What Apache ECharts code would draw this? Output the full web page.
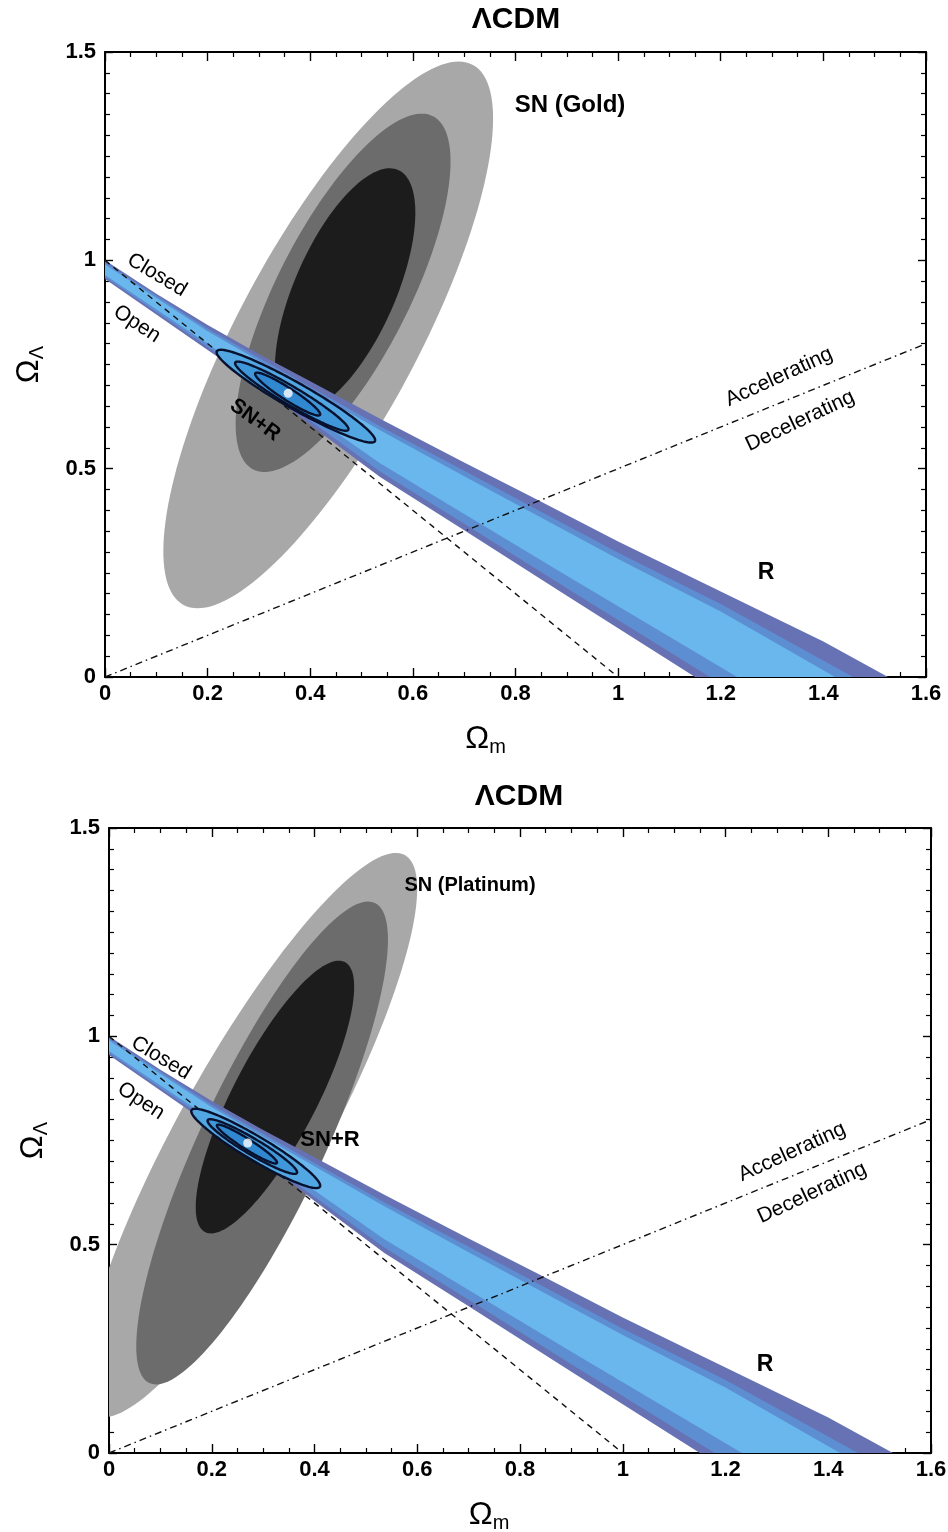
<!DOCTYPE html>
<html><head><meta charset="utf-8">
<script src="https://cdn.jsdelivr.net/npm/echarts@6/dist/echarts.min.js"></script>
<style>html,body{margin:0;padding:0;background:#fff}#c{width:948px;height:1532px}</style>
</head><body><div id="c"></div>
<script>
// ---------------- DATA ----------------
const xTickLabels = ['0','0.2','0.4','0.6','0.8','1','1.2','1.4','1.6'];
const yTickLabels = ['0','0.5','1','1.5'];
const flatLine  = [[0,1],[1,0]];          // Omega_k = 0 (Closed / Open)
const accelLine = [[0,0],[1.6,0.8]];      // q0 = 0 (Accelerating / Decelerating)

// R (CMB shift) band edges, [Omega_m, Omega_Lambda]
const rOuterUpper = [[0,1.0],[0.1,0.92],[0.2,0.845],[0.3,0.775],[0.4,0.71],[0.536,0.62],[0.7,0.515],[0.835,0.43],[1.0,0.325],[1.2,0.205],[1.4,0.085],[1.526,0]];
const rOuterLower = [[0,0.955],[0.1,0.87],[0.2,0.785],[0.3,0.70],[0.4,0.605],[0.536,0.48],[0.7,0.352],[0.9,0.195],[1.15,0]];
const rMidUpper   = [[0,0.995],[0.2,0.836],[0.4,0.696],[0.536,0.602],[0.7,0.495],[1.0,0.298],[1.2,0.175],[1.458,0]];
const rMidLower   = [[0,0.96],[0.2,0.792],[0.4,0.615],[0.536,0.493],[0.7,0.368],[0.9,0.213],[1.179,0]];
const rInUpper    = [[0,0.99],[0.2,0.83],[0.4,0.688],[0.536,0.592],[0.7,0.482],[1.0,0.283],[1.2,0.157],[1.423,0]];
const rInLower    = [[0,0.965],[0.2,0.8],[0.4,0.63],[0.536,0.513],[0.7,0.391],[0.9,0.243],[1.232,0]];

// Ellipse contours: [centerX, centerY, majorTipX, majorTipY, minorTipX, minorTipY]
const goldSN3 = [0.435,0.821, 0.717,1.469, 0.589,0.718];
const goldSN2 = [0.464,0.922, 0.639,1.346, 0.579,0.850];
const goldSN1 = [0.468,0.929, 0.571,1.217, 0.558,0.881];
const goldJoint3 = [0.372,0.674, 0.526,0.566, 0.360,0.647];
const goldJoint2 = [0.364,0.674, 0.474,0.593, 0.354,0.656];
const goldJoint1 = [0.356,0.679, 0.419,0.629, 0.349,0.667];
const goldBest = [[0.357,0.681]];

const platSN3 = [0.2743,0.7631, 0.5759,1.435, 0.3969,0.679];
const platSN2 = [0.298,0.744, 0.5175,1.320, 0.4068,0.6806];
const platSN1 = [0.323,0.8543, 0.4591,1.1783, 0.3955,0.808];
const platJoint3 = [0.2856,0.731, 0.4105,0.639, 0.2737,0.7065];
const platJoint2 = [0.279,0.7355, 0.3658,0.672, 0.2712,0.719];
const platJoint1 = [0.2685,0.7415, 0.3268,0.696, 0.2634,0.731];
const platBest = [[0.270,0.744]];

// ---------------- CHART ----------------
const FONT = 'Liberation Sans';
const chart = echarts.init(document.getElementById('c'), null, {renderer:'canvas'});

function ellipseSeries(g, e, fill, stroke, lw, z){
  return {type:'custom', xAxisIndex:2*g, yAxisIndex:2*g, clip:true, silent:true, z:z,
    data:[[e[0],e[1]]],
    renderItem:function(params, api){
      const pts=[]; const N=160;
      for(let k=0;k<N;k++){
        const t=2*Math.PI*k/N, c=Math.cos(t), s=Math.sin(t);
        pts.push(api.coord([e[0]+c*(e[2]-e[0])+s*(e[4]-e[0]), e[1]+c*(e[3]-e[1])+s*(e[5]-e[1])]));
      }
      return {type:'polygon', shape:{points:pts},
        style:{fill:fill, stroke:stroke||null, lineWidth:lw||0}};
    }};
}
function bandSeries(g, upper, lower, color, z){
  return {type:'custom', xAxisIndex:2*g, yAxisIndex:2*g, clip:true, silent:true, z:z,
    data:[[upper[0][0],upper[0][1]]],
    renderItem:function(params, api){
      const pts = upper.map(p=>api.coord(p)).concat(lower.slice().reverse().map(p=>api.coord(p)));
      return {type:'polygon', shape:{points:pts}, style:{fill:color}};
    }};
}
function lineSeries(g, d, type, z){
  return {type:'line', xAxisIndex:2*g, yAxisIndex:2*g, data:d, showSymbol:false, silent:true,
    clip:true, z:z, lineStyle:{color:'#111', width:1.4, type:type}};
}

const grids = [{left:105, top:52, width:821, height:625},{left:109, top:828, width:822, height:625}];
const xNamePad = [[0,60,0,0],[0,62,0,0]];
const xAxes=[], yAxes=[];
grids.forEach((gr,g)=>{
  const tick={show:true, inside:true, length:9, lineStyle:{color:'#000', width:1.4}};
  const minor={show:true, splitNumber:4, length:5, lineStyle:{color:'#000', width:1.2}};
  const base={gridIndex:g, type:'value', min:0, max:1.6, interval:0.2, splitLine:{show:false}, minorSplitLine:{show:false},
    axisLine:{show:true, onZero:false, lineStyle:{color:'#000', width:2}}, axisTick:tick, minorTick:minor};
  xAxes.push(Object.assign({}, base, {position:'bottom',
    axisLabel:{show:true, color:'#000', fontFamily:FONT, fontWeight:'bold', fontSize:22, margin:6,
      formatter:v=>xTickLabels[Math.round(v/0.2)]},
    name:'{a|Ω}{b|m}', nameLocation:'middle', nameGap:44,
    nameTextStyle:{padding:xNamePad[g], rich:{a:{fontFamily:FONT, fontSize:32, color:'#000'}, b:{fontFamily:FONT, fontSize:20, color:'#000', padding:[16,0,0,0]}}}}));
  xAxes.push(Object.assign({}, base, {position:'top', axisLabel:{show:false}}));
  const ytick={show:true, inside:true, length:8, lineStyle:{color:'#000', width:1.4}};
  const yminor={show:true, splitNumber:10, length:5, lineStyle:{color:'#000', width:1.2}};
  const ybase={gridIndex:g, type:'value', min:0, max:1.5, interval:0.5, splitLine:{show:false}, minorSplitLine:{show:false},
    axisLine:{show:true, onZero:false, lineStyle:{color:'#000', width:2}}, axisTick:ytick, minorTick:yminor};
  yAxes.push(Object.assign({}, ybase, {position:'left',
    axisLabel:{show:true, color:'#000', fontFamily:FONT, fontWeight:'bold', fontSize:22, margin:9,
      formatter:v=>yTickLabels[Math.round(v/0.5)]},
    name:'{a|Ω}{b|Λ}', nameLocation:'middle', nameGap:58, nameRotate:90,
    nameTextStyle:{rich:{a:{fontFamily:FONT, fontSize:32, color:'#000'}, b:{fontFamily:FONT, fontSize:20, color:'#000', padding:[16,0,0,0]}}}}));
  yAxes.push(Object.assign({}, ybase, {position:'right', axisLabel:{show:false}}));
});

const C_LG='#a8a8a8', C_MG='#6c6c6c', C_BK='#1c1c1c';
const C_R3='#6672b3', C_R2='#5e8ed2', C_R1='#69b7ec';
const C_J3='#52a6e2', C_J2='#3f97da', C_J1='#2f88d0', C_JS='#08122e';

const series=[];
[[goldSN3,goldSN2,goldSN1,goldJoint3,goldJoint2,goldJoint1,goldBest],
 [platSN3,platSN2,platSN1,platJoint3,platJoint2,platJoint1,platBest]].forEach((s,g)=>{
  series.push(ellipseSeries(g,s[0],C_LG,null,0,1));
  series.push(ellipseSeries(g,s[1],C_MG,null,0,1));
  series.push(ellipseSeries(g,s[2],C_BK,null,0,1));
  series.push(bandSeries(g,rOuterUpper,rOuterLower,C_R3,2));
  series.push(bandSeries(g,rMidUpper,rMidLower,C_R2,2));
  series.push(bandSeries(g,rInUpper,rInLower,C_R1,2));
  series.push(lineSeries(g,flatLine,[6,5],3));
  series.push(lineSeries(g,accelLine,[7,4,1.5,4],3));
  series.push(ellipseSeries(g,s[3],C_J3,C_JS,2.4,4));
  series.push(ellipseSeries(g,s[4],C_J2,C_JS,2.4,4));
  series.push(ellipseSeries(g,s[5],C_J1,C_JS,2.4,4));
  series.push({type:'scatter', xAxisIndex:2*g, yAxisIndex:2*g, data:s[6], symbolSize:9, silent:true, z:5,
    itemStyle:{color:'#fff'}});
});

function txt(x,y,t,size,bold,rot){
  return {type:'text', x:x, y:y, rotation:rot||0, z:100, silent:true,
    style:{text:t, fill:'#000', fontFamily:FONT, fontSize:size, fontWeight:bold?'bold':'normal', align:'center', verticalAlign:'middle'}};
}
const graphic=[
  txt(516,20,'ΛCDM',30,true),
  txt(570,105,'SN (Gold)',24,true),
  txt(255,420,'SN+R',21,true,-0.63),
  txt(766,573,'R',23,true),
  txt(157,275,'Closed',21,false,-0.54),
  txt(137,324,'Open',21,false,-0.58),
  txt(779,377,'Accelerating',21,false,0.43),
  txt(800,421,'Decelerating',21,false,0.44),
  txt(519,797,'ΛCDM',30,true),
  txt(470,885,'SN (Platinum)',20,true),
  txt(330,1140,'SN+R',22,true),
  txt(765,1365,'R',23,true),
  txt(161,1058,'Closed',21,false,-0.54),
  txt(141,1101,'Open',21,false,-0.58),
  txt(792,1152,'Accelerating',21,false,0.43),
  txt(812,1193,'Decelerating',21,false,0.44)
];

chart.setOption({animation:false, backgroundColor:'#fff', grid:grids.map(g=>Object.assign({outerBoundsMode:'none'},g)),
  xAxis:xAxes, yAxis:yAxes, series:series, graphic:graphic});
</script></body></html>
